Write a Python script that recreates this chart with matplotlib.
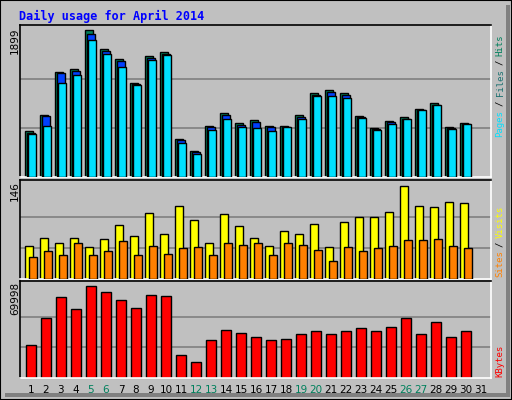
import matplotlib
matplotlib.use("Agg")
import matplotlib.pyplot as plt
from matplotlib.patches import Rectangle
import numpy as np

days = list(range(1, 31))
day_labels = [str(d) for d in range(1, 32)]
weekend_days = [5, 6, 12, 13, 19, 20, 26, 27]

hits = [595, 798, 1355, 1393, 1899, 1658, 1519, 1215, 1557, 1620, 494, 342, 658, 823, 696,
        734, 658, 658, 798, 1089, 1127, 1089, 785, 633, 722, 772, 874, 950, 646, 696]
files = [570, 785, 1342, 1367, 1848, 1633, 1494, 1203, 1532, 1595, 481, 317, 646, 798, 671,
         709, 646, 646, 772, 1063, 1101, 1063, 772, 620, 709, 747, 861, 924, 633, 684]
pages = [557, 658, 1215, 1317, 1772, 1595, 1418, 1190, 1507, 1582, 443, 291, 608, 747, 646,
         633, 595, 646, 747, 1051, 1051, 1025, 760, 608, 684, 747, 861, 924, 620, 684]
visits = [52, 65, 57, 65, 51, 63, 84, 68, 103, 71, 114, 92, 57, 102, 83,
          65, 52, 76, 70, 87, 51, 89, 98, 98, 105, 146, 114, 113, 121, 119]
sites = [35, 44, 37, 57, 37, 44, 60, 37, 52, 40, 49, 51, 37, 56, 54,
         57, 38, 57, 54, 46, 29, 51, 44, 49, 52, 62, 62, 63, 52, 49]
kbytes = [25400, 45400, 61500, 52300, 69998, 65400, 59200, 53100, 63100, 62300, 17700, 12300,
          29200, 36900, 34600, 31500, 29200, 30000, 33800, 35400, 33800, 35400, 37700, 35400,
          38500, 45400, 33800, 42300, 31500, 36100]

C_HITS, C_FILES, C_PAGES = "#00805C", "#0040FF", "#00E0FF"
C_VIS, C_SITES, C_KB = "#FFFF00", "#FF8000", "#FF0000"
BG = "#C0C0C0"
W, H = 512, 400

fig = plt.figure(figsize=(5.12, 4.0), dpi=100, facecolor=BG)

def fx(px): return px / W
def fy(py): return 1 - py / H

fig.patches.append(Rectangle((0, 0), 1, 1, transform=fig.transFigure, fill=False, ec="black", lw=1.5))
fig.patches.append(Rectangle((fx(506), fy(397)), fx(4), fy(5) - fy(397), transform=fig.transFigure, fc="#808080", ec="none"))
fig.patches.append(Rectangle((fx(5), fy(397)), fx(505), fy(393) - fy(397), transform=fig.transFigure, fc="#808080", ec="none"))

def make_ax(top, bottom):
    ax = fig.add_axes([fx(20), fy(bottom), fx(471), (bottom - top) / H])
    ax.set_facecolor(BG)
    for s in ax.spines.values():
        s.set_color("black"); s.set_linewidth(1.2)
    ax.spines["right"].set_color("white"); ax.spines["bottom"].set_color("white")
    ax.set_xlim(0.27, 31.67)
    ax.set_yticks([]); ax.set_xticks([])
    return ax

x = np.array(days)
lw = 1.0

ax1 = make_ax(25, 177)
ax1.set_ylim(0, 1899 * 152 / 147)
for g in (633, 1266):
    ax1.axhline(g, color="#808080", lw=1.2, zorder=0)
ax1.bar(x - 0.13, hits, width=0.53, color=C_HITS, ec="black", lw=lw, zorder=2)
ax1.bar(x, files, width=0.53, color=C_FILES, ec="black", lw=lw, zorder=3)
ax1.bar(x + 0.1, pages, width=0.53, color=C_PAGES, ec="black", lw=lw, zorder=4)

ax2 = make_ax(180, 279)
ax2.set_ylim(0, 146 * 99 / 93)
for g in (146 / 3, 146 * 2 / 3):
    ax2.axhline(g, color="#808080", lw=1.2, zorder=0)
ax2.bar(x - 0.13, visits, width=0.53, color=C_VIS, ec="black", lw=lw, zorder=2)
ax2.bar(x + 0.13, sites, width=0.53, color=C_SITES, ec="black", lw=lw, zorder=3)

ax3 = make_ax(281, 378)
ax3.set_ylim(0, 69998 * 97 / 92)
for g in (69998 / 3, 69998 * 2 / 3):
    ax3.axhline(g, color="#808080", lw=1.2, zorder=0)
ax3.bar(x + 0.02, kbytes, width=0.65, color=C_KB, ec="black", lw=lw, zorder=2)
ax3.set_xticks(range(1, 32))
ax3.set_xticklabels(day_labels, fontsize=7.5, family="DejaVu Sans")
ax3.tick_params(axis="x", length=0, pad=5)
for lab, d in zip(ax3.get_xticklabels(), range(1, 32)):
    lab.set_color(C_HITS if d in weekend_days else "black")

fig.text(fx(19), fy(16), "Daily usage for April 2014", color="#0000FF", fontsize=8.5,
         family="DejaVu Sans Mono", fontweight="bold", va="center", ha="left")

for txt, ytop in (("1899", 28), ("146", 181), ("69998", 282)):
    fig.text(fx(15), fy(ytop), txt, rotation=90, fontsize=7.5, family="DejaVu Sans",
             va="top", ha="center")

def rlabel(parts):
    for txt, col, ybot in parts:
        fig.text(fx(500), fy(ybot), txt, rotation=90, color=col, fontsize=6.5,
                 family="DejaVu Sans Mono", va="bottom", ha="center")

rlabel([("Pages", C_PAGES, 137), ("/", "black", 106), ("Files", "#1A7070", 96),
        ("/", "black", 65), ("Hits", C_HITS, 56)])
rlabel([("Sites", C_SITES, 277), ("/", "black", 247), ("Visits", C_VIS, 238)])
rlabel([("KBytes", C_KB, 377)])

fig.savefig("out.png", dpi=100, facecolor=BG)
